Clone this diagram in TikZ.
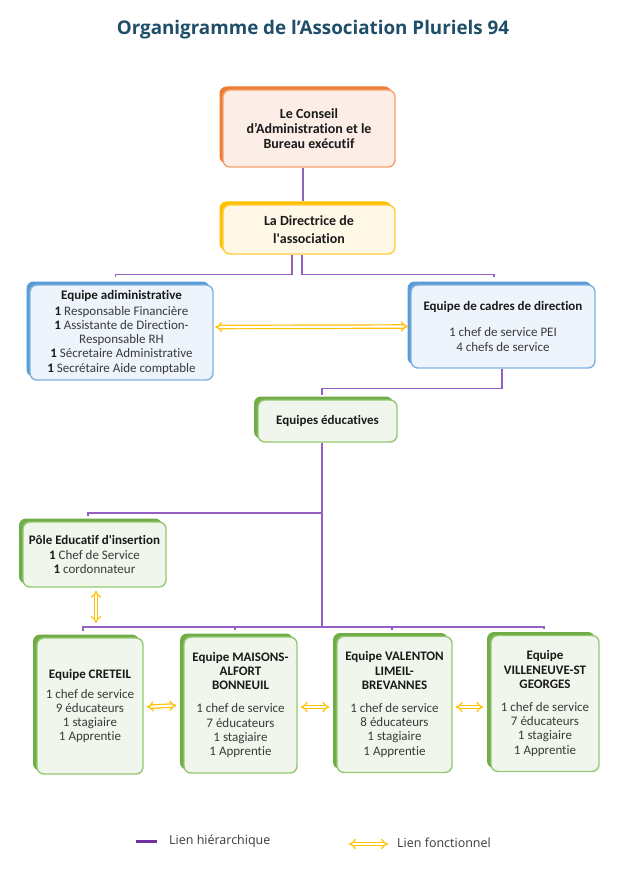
\documentclass[tikz,border=0pt]{standalone}
\usepackage{fontspec}
\setmainfont{Carlito}[Ligatures={TeX,NoCommon}]
\newfontfamily\titlefont{Open Sans}
\newfontfamily\legfont{Open Sans}
\usetikzlibrary{arrows.meta,shadows}
\definecolor{titlec}{HTML}{1F4E69}
\definecolor{textc}{HTML}{3A3A3A}
\definecolor{boldc}{HTML}{1A1A1A}
\definecolor{odark}{HTML}{ED7D31}
\definecolor{oborder}{HTML}{F3A06B}
\definecolor{ofill}{HTML}{FCEEE7}
\definecolor{ydark}{HTML}{FFC000}
\definecolor{yborder}{HTML}{FFCB3D}
\definecolor{yfill}{HTML}{FFF8E7}
\definecolor{bdark}{HTML}{5B9BD5}
\definecolor{bborder}{HTML}{7FB2E0}
\definecolor{bfill}{HTML}{EEF4FB}
\definecolor{gdark}{HTML}{70AD47}
\definecolor{gborder}{HTML}{96C873}
\definecolor{gfill}{HTML}{F0F6EC}
\definecolor{purpc}{HTML}{9460C2}
\definecolor{purpleg}{HTML}{7030A0}
\definecolor{goldc}{HTML}{FFC000}
\newcommand{\bt}[1]{\textcolor{boldc}{\textbf{#1}}}
\tikzset{
  box/.style={rounded corners=7pt, line width=1.4pt, align=center, inner sep=0pt,
    text=textc, font=\fontsize{13}{14.3}\selectfont},
  obox/.style={box, draw=oborder, fill=ofill,
    drop shadow={shadow xshift=-3.5pt, shadow yshift=3.5pt, fill=odark, opacity=1}},
  ybox/.style={box, draw=yborder, fill=yfill,
    drop shadow={shadow xshift=-3.5pt, shadow yshift=3.5pt, fill=ydark, opacity=1}},
  bbox/.style={box, draw=bborder, fill=bfill,
    drop shadow={shadow xshift=-3.5pt, shadow yshift=3.5pt, fill=bdark, opacity=1}},
  gbox/.style={box, draw=gborder, fill=gfill,
    drop shadow={shadow xshift=-4pt, shadow yshift=3.5pt, fill=gdark, opacity=1}},
  teambox/.style={gbox, minimum height=136pt},
  hier/.style={draw=purpc, line width=1.3pt},
  fonc/.style={draw=goldc, double=white, double distance=2.2pt, line width=1.2pt,
    {Implies[scale=1.25]}-{Implies[scale=1.25]}},
  legh/.style={draw=purpleg, line width=3pt},
  legtext/.style={anchor=west, text=textc, font=\legfont\fontsize{12.5}{14}\selectfont, inner sep=0pt}
}
\begin{document}
\begin{tikzpicture}[x=1pt,y=-1pt]
\fill[white] (0,0) rectangle (628,882);
\useasboundingbox (0,0) rectangle (628,882);

\node[text=titlec, font=\titlefont\bfseries\fontsize{18.8}{22}\selectfont] (title) at (313,30) {Organigramme de l’Association Pluriels 94};

\node[obox, minimum width=172pt, minimum height=77pt, font=\fontsize{14}{15}\selectfont] (conseil) at (309,128.5)
  {\bt{Le Conseil}\\\bt{d’Administration et le}\\\bt{Bureau exécutif}};
\node[ybox, minimum width=172pt, minimum height=49pt, font=\fontsize{14}{18}\selectfont] (directrice) at (309,229.5)
  {\bt{La Directrice de}\\\bt{l\textquotesingle association}};
\node[bbox, minimum width=183pt, minimum height=95pt] (admin) at (121.5,332.5)
  {\bt{Equipe adiministrative}\\[1pt]\bt{1} Responsable Financière\\\bt{1} Assistante de Direction-\\Responsable RH\\\bt{1} Sécretaire Administrative\\\bt{1} Secrétaire Aide comptable};
\node[bbox, minimum width=184pt, minimum height=83pt] (cadres) at (503,326.5)
  {\bt{Equipe de cadres de direction}\\[11.5pt]1 chef de service PEI\\4 chefs de service};
\node[gbox, minimum width=139pt, minimum height=42pt] (educ) at (327.5,421)
  {\bt{Equipes éducatives}};
\node[gbox, minimum width=143pt, minimum height=65pt] (pole) at (94.5,554.5)
  {\bt{Pôle Educatif d\textquotesingle insertion}\\\bt{1} Chef de Service\\\bt{1} cordonnateur};
\node[teambox, minimum width=106pt] (creteil) at (90,706)
  {\bt{Equipe CRETEIL}\\[5.7pt]1 chef de service\\9 éducateurs\\1 stagiaire\\1 Apprentie};
\node[teambox, minimum width=113pt] (maisons) at (240.5,705)
  {\bt{Equipe MAISONS-}\\\bt{ALFORT}\\\bt{BONNEUIL}\\[8.5pt]1 chef de service\\7 éducateurs\\1 stagiaire\\1 Apprentie};
\node[teambox, minimum width=115pt] (valenton) at (394.5,704.5)
  {\bt{Equipe VALENTON}\\\bt{LIMEIL-}\\\bt{BREVANNES}\\[8.5pt]1 chef de service\\8 éducateurs\\1 stagiaire\\1 Apprentie};
\node[teambox, minimum width=108pt] (villeneuve) at (545,703.5)
  {\bt{Equipe}\\\bt{VILLENEUVE-ST}\\\bt{GEORGES}\\[8.5pt]1 chef de service\\7 éducateurs\\1 stagiaire\\1 Apprentie};

% hierarchical links
\draw[hier] ([xshift=-6pt]conseil.south) -- ([xshift=-6pt,yshift=3.5pt]directrice.north);
\draw[hier] ([xshift=-17pt]directrice.south) |- ([xshift=-6pt,yshift=10pt]admin.north) -- ([xshift=-6pt,yshift=7pt]admin.north);
\draw[hier] ([xshift=-7pt]directrice.south) |- ([xshift=-9pt,yshift=10pt]cadres.north) -- ([xshift=-9pt,yshift=7pt]cadres.north);
\draw[hier] ([xshift=-1pt]cadres.south) |- ([xshift=-5.5pt,yshift=11pt]educ.north) -- ([xshift=-5.5pt,yshift=4pt]educ.north);
\coordinate (pj) at (322,513);
\coordinate (busmid) at (322,627);
\coordinate (busR) at (544,627);
\draw[hier] ([xshift=-5.5pt]educ.south) -- (busmid);
\draw[hier] (pj) -| ([xshift=-6.5pt,yshift=5pt]pole.north);
\draw[hier] ([xshift=-7pt,yshift=6pt]creteil.north) |- (busR) -- ([xshift=-1pt,yshift=6pt]villeneuve.north);
\draw[hier] ([xshift=-5.5pt,yshift=6pt]maisons.north) |- (busmid);
\draw[hier] ([xshift=-2.5pt,yshift=6pt]valenton.north) |- (busmid);

% functional links
\draw[fonc, shorten <=1.5pt, shorten >=2.5pt] ([yshift=5.5pt]admin.east) -- (cadres.west);
\coordinate (polearr) at (96,623);
\draw[fonc, shorten <=3pt] ([xshift=1.5pt]pole.south) -- (polearr);
\draw[fonc, shorten <=3pt, shorten >=7pt] ([yshift=-1pt]creteil.east) -- (maisons.west);
\draw[fonc, shorten <=3pt, shorten >=7pt] ([yshift=-2pt]maisons.east) -- ([yshift=-2.5pt]valenton.west);
\draw[fonc, shorten <=3pt, shorten >=7pt] ([yshift=-2.5pt]valenton.east) -- ([yshift=-3.5pt]villeneuve.west);

% legend
\node[legtext] (lh) at (169,841) {Lien hiérarchique};
\draw[legh] ([xshift=-33pt]lh.west) -- ([xshift=-12pt]lh.west);
\node[legtext] (lf) at (397,843) {Lien fonctionnel};
\draw[fonc] ([xshift=-48pt,yshift=-1pt]lf.west) -- ([xshift=-9pt,yshift=-1pt]lf.west);
\end{tikzpicture}
\end{document}
